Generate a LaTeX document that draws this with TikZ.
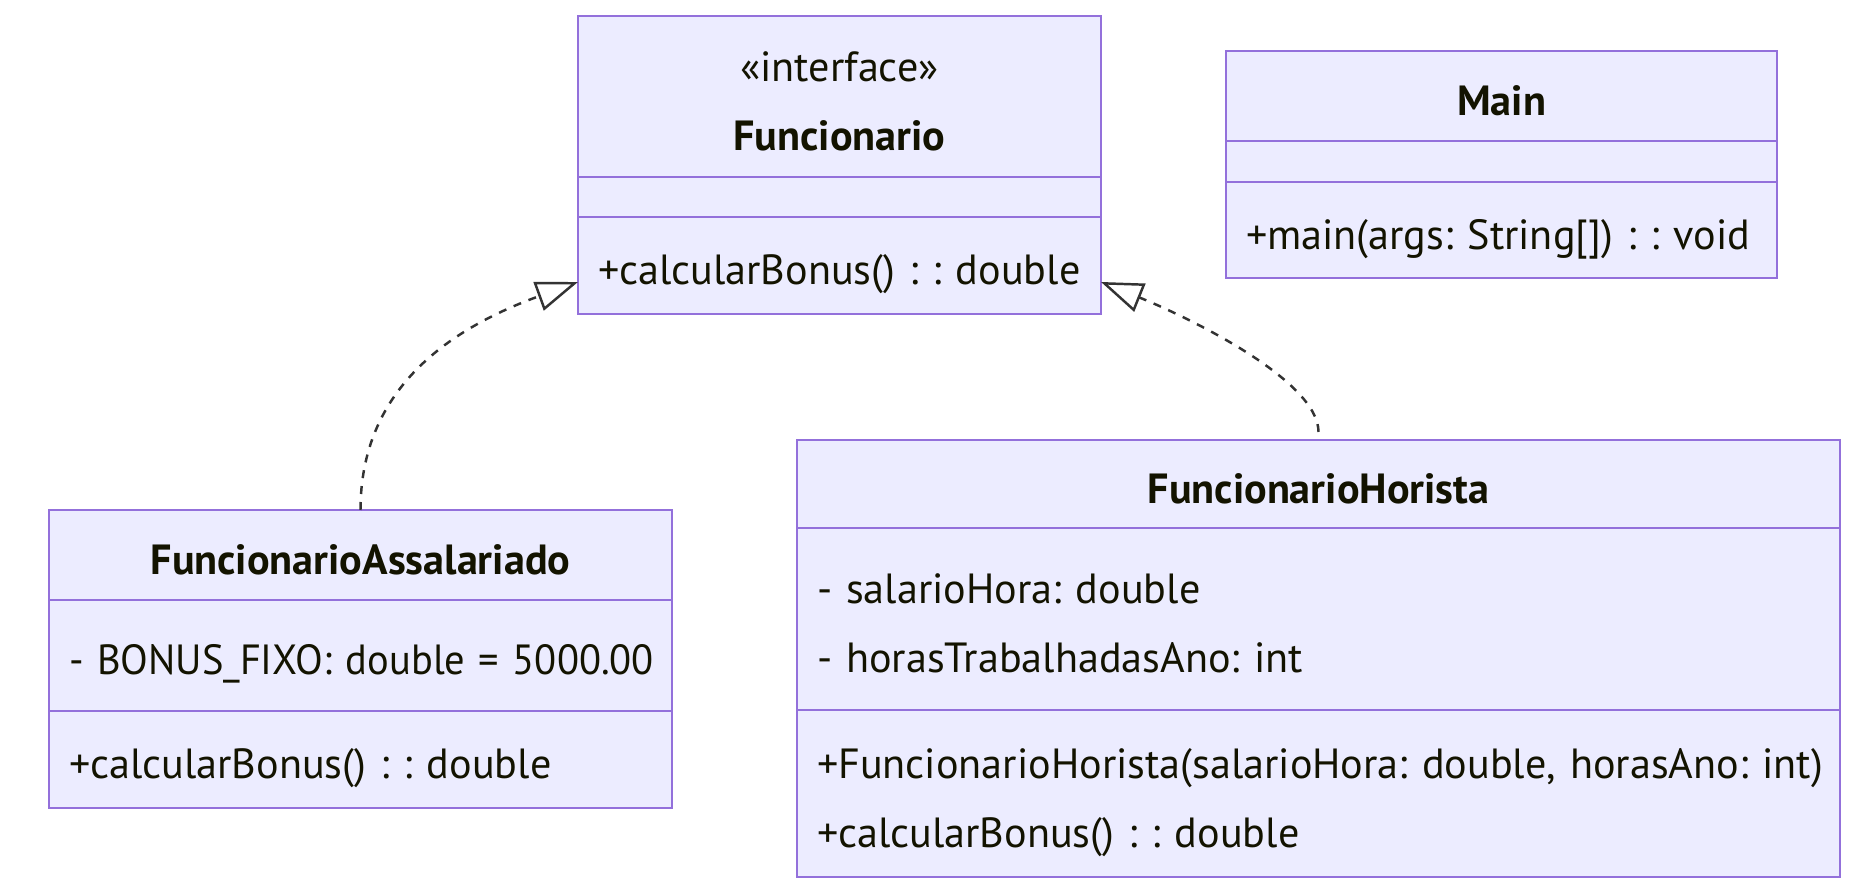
\documentclass[tikz,border=0pt]{standalone}
\usepackage{fontspec}
\setmainfont{PT Sans}
\usetikzlibrary{positioning,arrows.meta}
\definecolor{umlfill}{HTML}{ECECFF}
\definecolor{umlline}{HTML}{9370DB}
\definecolor{umltext}{HTML}{131300}
\definecolor{relline}{HTML}{333333}
\newcommand{\ustrut}{\rule[-0.106cm]{0pt}{0.6cm}}

\begin{document}
\begin{tikzpicture}[
    c/.style={draw=umlline,fill=umlfill,line width=0.75pt,outer sep=0pt,inner xsep=0.2cm,inner ysep=0pt,text=umltext,font=\fontsize{12}{19.6}\selectfont\frenchspacing},%
    hd/.style={c,align=center,execute at begin node=\ustrut,execute at end node=\ustrut},%
    sec/.style={c,align=left,execute at begin node=\ustrut,execute at end node=\ustrut},%
    emp/.style={c},%
    rel/.style={draw=relline,line width=0.7pt,dash pattern=on 0.08cm off 0.08cm,-{Triangle[open,length=0.42cm,width=0.3cm]}}]
    \path[fill=white] (0,0) rectangle (18.74,-8.93);

    \node[hd,anchor=north west,text width=4.83cm,minimum height=1.61cm] (fTop) at (5.78,-0.16) {«interface»\\\textbf{Funcionario}};
    \node[emp,text width=4.83cm,minimum height=0.40cm,below=0pt of fTop] (fAttr) {};
    \node[sec,text width=4.83cm,minimum height=0.97cm,below=0pt of fAttr] (fMeth) {\mbox{+calcularBonus() : : double}};

    \node[hd,anchor=north west,minimum width=5.51cm,minimum height=0.90cm] (mTop) at (12.26,-0.51) {\textbf{Main}};
    \node[emp,text width=5.11cm,minimum height=0.41cm,below=0pt of mTop] (mAttr) {};
    \node[sec,text width=5.11cm,minimum height=0.96cm,below=0pt of mAttr] (mMeth) {\mbox{+main(args: String[]) : : void}};

    \node[hd,anchor=north west,minimum width=6.23cm,minimum height=0.90cm] (aTop) at (0.49,-5.10) {\textbf{FuncionarioAssalariado}};
    \node[sec,text width=5.83cm,minimum height=1.11cm,below=0pt of aTop] (aAttr) {\scalebox{0.96}[1]{- BONUS\_FIXO: double = 5000.00}};
    \node[sec,text width=5.83cm,minimum height=0.97cm,below=0pt of aAttr] (aMeth) {+calcularBonus() : : double};

    \node[hd,anchor=north west,minimum width=10.43cm,minimum height=0.88cm] (hTop) at (7.97,-4.40) {\textbf{FuncionarioHorista}};
    \node[sec,text width=10.03cm,minimum height=1.82cm,below=0pt of hTop] (hAttr) {- salarioHora: double\\- horasTrabalhadasAno: int};
    \node[sec,text width=10.03cm,minimum height=1.67cm,below=0pt of hAttr] (hMeth) {\mbox{+FuncionarioHorista(salarioHora: double, horasAno: int)}\\+calcularBonus() : : double};

    \coordinate (tipL) at ([yshift=0.32cm]fMeth.south west);
    \coordinate (tipR) at ([yshift=0.32cm]fMeth.south east);
    \draw[rel] (aTop.north) to[out=90,in=200,out looseness=0.96,in looseness=1.14] (tipL);
    \draw[rel] ([yshift=0.08cm]hTop.north) to[out=90,in=-22,out looseness=0.5,in looseness=0.91] (tipR);
\end{tikzpicture}
\end{document}
